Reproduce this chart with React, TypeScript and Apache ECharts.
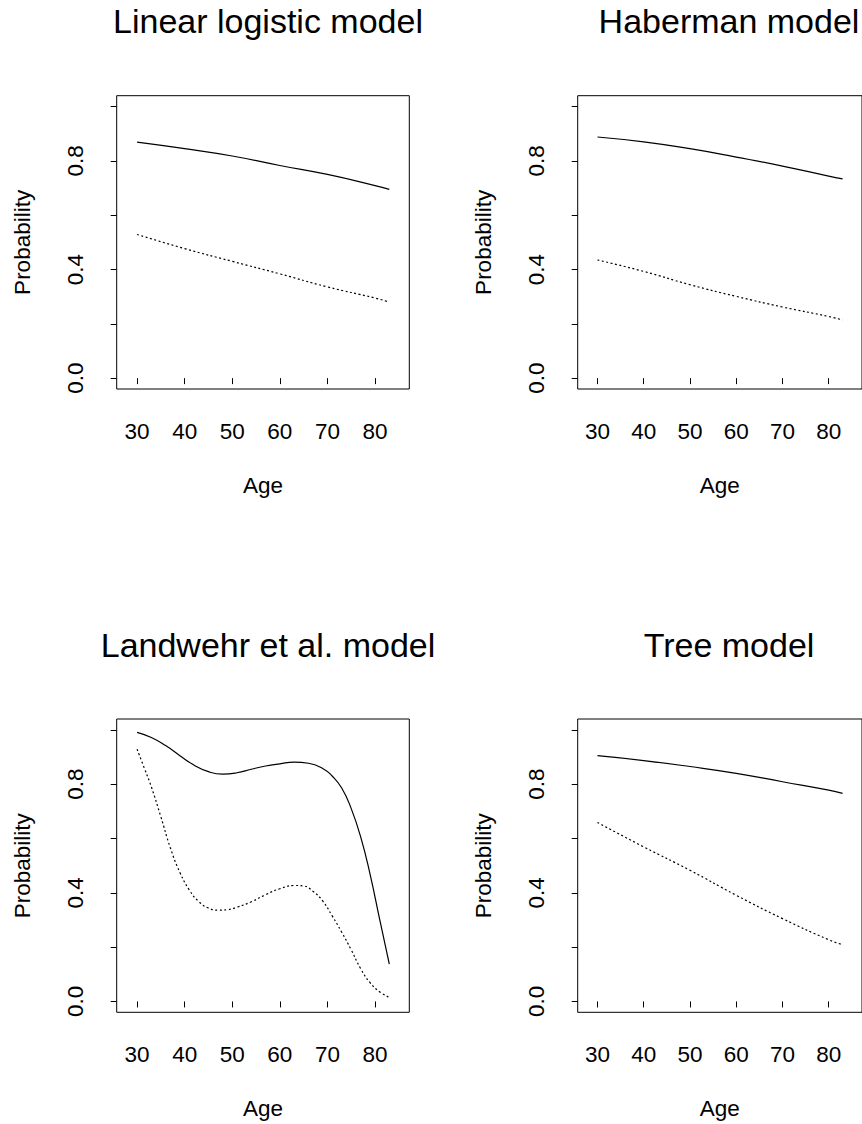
import React, { useEffect, useRef } from "react";
import * as echarts from "echarts";

const FONT = "'Liberation Sans', Arial, Helvetica, sans-serif";

const titles = ["Linear logistic model", "Haberman model", "Landwehr et al. model", "Tree model"];
const xTicks = [30, 40, 50, 60, 70, 80];
const yTicks = [0, 0.2, 0.4, 0.6, 0.8, 1.0];
const yLabels = [0, 0.4, 0.8];

const agesCoarse = [30, 40, 50, 60, 70, 80, 83];

const linSolid = [0.869, 0.845, 0.818, 0.783, 0.75, 0.709, 0.695];
const linDotted = [0.529, 0.477, 0.43, 0.384, 0.336, 0.295, 0.28];

const habSolid = [0.888, 0.87, 0.845, 0.814, 0.781, 0.744, 0.734];
const habDotted = [0.435, 0.393, 0.344, 0.301, 0.262, 0.227, 0.214];

const landAgesSolid = [30, 33, 36, 39, 42, 45, 48, 51, 54, 57, 60, 63, 66, 69, 71, 73, 75, 77, 79, 81, 83];
const landSolid = [0.991, 0.972, 0.942, 0.905, 0.87, 0.846, 0.837, 0.842, 0.855, 0.867, 0.875, 0.881, 0.877, 0.858, 0.83, 0.786, 0.71, 0.605, 0.465, 0.3, 0.137];
const landAgesDotted = [30, 31.5, 33, 35, 37, 39, 41, 43, 45, 47, 49, 51, 54, 57, 60, 63, 65, 67, 69, 71, 73, 75, 77, 79, 81, 83];
const landDotted = [0.929, 0.86, 0.79, 0.68, 0.565, 0.475, 0.41, 0.367, 0.344, 0.336, 0.338, 0.347, 0.367, 0.393, 0.415, 0.427, 0.425, 0.405, 0.37, 0.315, 0.255, 0.19, 0.12, 0.068, 0.035, 0.015];

const treeSolid = [0.905, 0.887, 0.865, 0.84, 0.809, 0.778, 0.766];
const treeDotted = [0.659, 0.569, 0.483, 0.391, 0.305, 0.227, 0.209];

const panels = [
  { solidX: agesCoarse, solid: linSolid, dottedX: agesCoarse, dotted: linDotted },
  { solidX: agesCoarse, solid: habSolid, dottedX: agesCoarse, dotted: habDotted },
  { solidX: landAgesSolid, solid: landSolid, dottedX: landAgesDotted, dotted: landDotted },
  { solidX: agesCoarse, solid: treeSolid, dottedX: agesCoarse, dotted: treeDotted },
];

const gridLefts = [116.7, 577.7, 116.7, 577.7];
const gridTops = [95.7, 95.7, 719, 719];
const GW = 292.6;
const GH = 293.3;

export default function App() {
  const ref = useRef<HTMLDivElement>(null);
  useEffect(() => {
    if (!ref.current) return;
    const chart = echarts.init(ref.current, null, { renderer: "svg" });
    const grids: any[] = [];
    const xAxes: any[] = [];
    const yAxes: any[] = [];
    const series: any[] = [];
    const titleArr: any[] = [];
    panels.forEach((p, i) => {
      grids.push({
        left: gridLefts[i],
        top: gridTops[i],
        width: GW,
        height: GH,
        show: true,
        borderColor: "#000",
        borderWidth: 1,
        backgroundColor: "transparent",
        containLabel: false,
      });
      titleArr.push({
        text: titles[i],
        left: gridLefts[i] + GW / 2,
        top: gridTops[i] - 96.5,
        textAlign: "center",
        textStyle: { fontFamily: FONT, fontSize: 34, fontWeight: "normal", color: "#000" },
      });
      xAxes.push({
        gridIndex: i,
        type: "value",
        min: 25.72,
        max: 87.2,
        axisLine: { show: false },
        splitLine: { show: false },
        axisTick: { show: true, length: 6, customValues: xTicks, lineStyle: { color: "#000", width: 1 } },
        axisLabel: {
          customValues: xTicks,
          margin: 31,
          fontSize: 22.5,
          fontFamily: FONT,
          color: "#000",
        },
        name: "Age",
        nameLocation: "middle",
        nameGap: 85,
        nameTextStyle: { fontFamily: FONT, fontSize: 22.5, color: "#000" },
      });
      yAxes.push({
        gridIndex: i,
        type: "value",
        min: -0.04,
        max: 1.04,
        axisLine: { show: false },
        splitLine: { show: false },
        axisTick: { show: true, length: 6, customValues: yTicks, lineStyle: { color: "#000", width: 1 } },
        axisLabel: {
          customValues: yLabels,
          rotate: 90,
          margin: 30,
          fontSize: 22.5,
          fontFamily: FONT,
          color: "#000",
          formatter: (v: number) => v.toFixed(1),
        },
        name: "Probability",
        nameLocation: "middle",
        nameGap: 83,
        nameTextStyle: { fontFamily: FONT, fontSize: 22.5, color: "#000" },
      });
      series.push({
        type: "line",
        xAxisIndex: i,
        yAxisIndex: i,
        data: p.solidX.map((x, k) => [x, p.solid[k]]),
        smooth: true,
        showSymbol: false,
        lineStyle: { color: "#000", width: 1.2, type: "solid" },
      });
      series.push({
        type: "line",
        xAxisIndex: i,
        yAxisIndex: i,
        data: p.dottedX.map((x, k) => [x, p.dotted[k]]),
        smooth: true,
        showSymbol: false,
        lineStyle: { color: "#000", width: 1.2, type: [2, 2.5] },
      });
    });
    chart.setOption({
      animation: false,
      backgroundColor: "#fff",
      title: titleArr,
      grid: grids,
      xAxis: xAxes,
      yAxis: yAxes,
      series,
    });
    return () => chart.dispose();
  }, []);
  return (
    <div
      ref={ref}
      style={{ position: "absolute", left: 0, top: 0, width: 862, height: 1124 }}
    />
  );
}
